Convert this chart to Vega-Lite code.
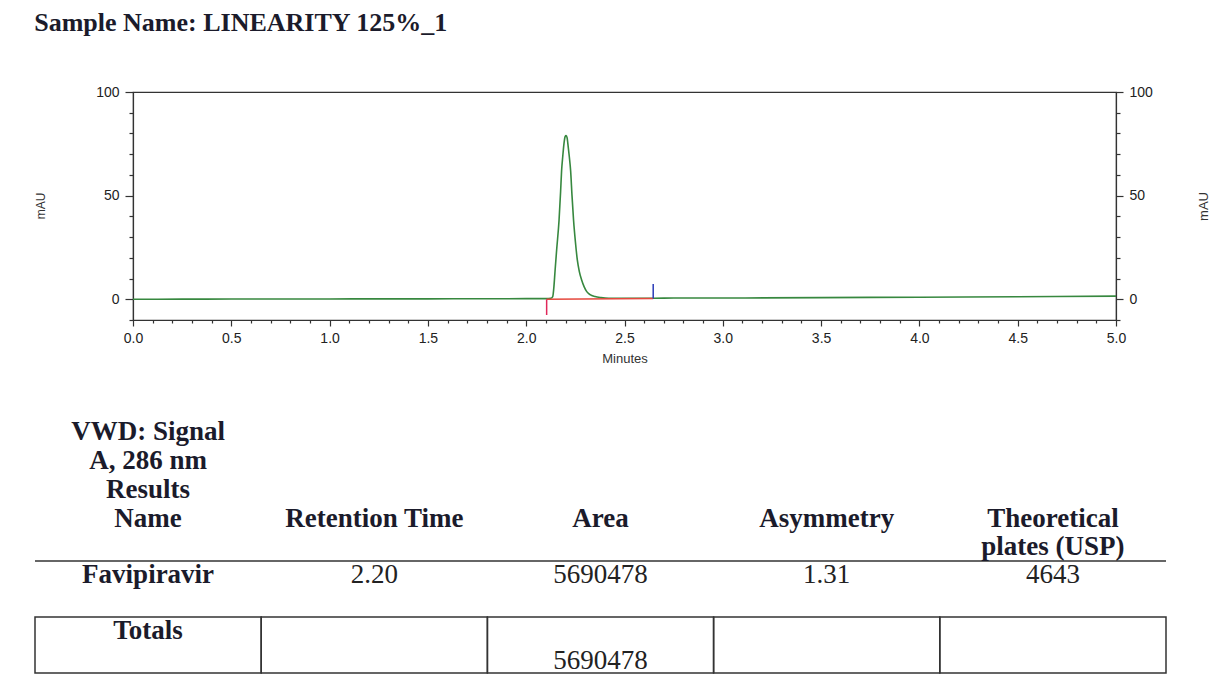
{
  "$schema": "https://vega.github.io/schema/vega-lite/v6.json",
  "background": "white",
  "padding": {"left": 34, "top": 10, "right": 0, "bottom": 0},
  "title": {
    "text": "Sample Name: LINEARITY 125%_1",
    "anchor": "start",
    "frame": "bounds",
    "offset": 48,
    "font": "Liberation Serif",
    "fontSize": 26,
    "fontWeight": "bold",
    "color": "#1b1b2b"
  },
  "datasets": {
    "trace": [
      {"t": 0.0, "mAU": 0.0},
      {"t": 0.25, "mAU": 0.05},
      {"t": 0.5, "mAU": 0.1},
      {"t": 0.75, "mAU": 0.1},
      {"t": 1.0, "mAU": 0.15},
      {"t": 1.25, "mAU": 0.2},
      {"t": 1.5, "mAU": 0.2},
      {"t": 1.75, "mAU": 0.25},
      {"t": 2.0, "mAU": 0.3},
      {"t": 2.1, "mAU": 0.3},
      {"t": 2.125, "mAU": 0.5},
      {"t": 2.135, "mAU": 1.3},
      {"t": 2.14, "mAU": 5},
      {"t": 2.147, "mAU": 14},
      {"t": 2.155, "mAU": 24},
      {"t": 2.167, "mAU": 38},
      {"t": 2.175, "mAU": 52},
      {"t": 2.18, "mAU": 62},
      {"t": 2.186, "mAU": 69},
      {"t": 2.192, "mAU": 75},
      {"t": 2.198, "mAU": 78.5},
      {"t": 2.203, "mAU": 79},
      {"t": 2.208, "mAU": 78},
      {"t": 2.212, "mAU": 75},
      {"t": 2.219, "mAU": 69},
      {"t": 2.226, "mAU": 62},
      {"t": 2.233, "mAU": 50},
      {"t": 2.241, "mAU": 38},
      {"t": 2.25, "mAU": 28},
      {"t": 2.26, "mAU": 19},
      {"t": 2.27, "mAU": 13.5},
      {"t": 2.282, "mAU": 9.3},
      {"t": 2.295, "mAU": 6},
      {"t": 2.308, "mAU": 3.7},
      {"t": 2.325, "mAU": 2.2},
      {"t": 2.35, "mAU": 1.3},
      {"t": 2.38, "mAU": 0.8},
      {"t": 2.42, "mAU": 0.5},
      {"t": 2.5, "mAU": 0.5},
      {"t": 2.65, "mAU": 0.5},
      {"t": 2.75, "mAU": 0.6},
      {"t": 3.0, "mAU": 0.6},
      {"t": 3.5, "mAU": 0.8},
      {"t": 4.0, "mAU": 1.0},
      {"t": 4.5, "mAU": 1.2},
      {"t": 5.0, "mAU": 1.5}
    ],
    "baseline": [
      {"t": 2.104, "mAU": 0.0},
      {"t": 2.646, "mAU": 0.4}
    ],
    "events": [
      {"t": 2.104, "from": 0.0, "to": -7.6, "event": "start"},
      {"t": 2.646, "from": 0.4, "to": 7.4, "event": "end"}
    ],
    "table": [
      {"row": "header", "column": "Name", "text": "VWD: Signal\nA, 286 nm\nResults\nName"},
      {"row": "header", "column": "Retention Time", "text": "Retention Time"},
      {"row": "header", "column": "Area", "text": "Area"},
      {"row": "header", "column": "Asymmetry", "text": "Asymmetry"},
      {"row": "header", "column": "Theoretical plates (USP)", "text": "Theoretical\nplates (USP)"},
      {"row": "value", "column": "Name", "text": "Favipiravir"},
      {"row": "value", "column": "Retention Time", "text": "2.20"},
      {"row": "value", "column": "Area", "text": "5690478"},
      {"row": "value", "column": "Asymmetry", "text": "1.31"},
      {"row": "value", "column": "Theoretical plates (USP)", "text": "4643"},
      {"row": "total", "column": "Name", "text": "Totals"},
      {"row": "total", "column": "Retention Time", "text": ""},
      {"row": "total", "column": "Area", "text": "5690478"},
      {"row": "total", "column": "Asymmetry", "text": ""},
      {"row": "total", "column": "Theoretical plates (USP)", "text": ""}
    ]
  },
  "spacing": 52,
  "vconcat": [
    {
      "spacing": 48,
      "hconcat": [
        {
          "width": 12,
          "height": 228,
          "view": {"stroke": null},
          "data": {"values": [{"label": "mAU"}]},
          "mark": {"type": "text", "angle": 270, "font": "Liberation Sans", "fontSize": 12, "color": "#333333", "baseline": "middle", "align": "center"},
          "encoding": {"text": {"field": "label"}}
        },
        {
          "width": 983,
          "height": 228,
          "view": {"stroke": "#333333", "strokeWidth": 1.2},
          "resolve": {"axis": {"x": "independent", "y": "independent"}},
          "layer": [
            {
              "data": {"name": "trace"},
              "mark": {"type": "line", "color": "#37883f", "strokeWidth": 1.6, "interpolate": "monotone"},
              "encoding": {
                "x": {
                  "field": "t", "type": "quantitative",
                  "scale": {"domain": [0, 5], "nice": false, "zero": false},
                  "axis": {
                    "orient": "bottom",
                    "values": [0, 0.5, 1, 1.5, 2, 2.5, 3, 3.5, 4, 4.5, 5],
                    "format": ".1f",
                    "tickSize": 6,
                    "labelPadding": 5,
                    "labelFlush": false,
                    "labelOverlap": false,
                    "title": "Minutes",
                    "titlePadding": 7
                  }
                },
                "y": {
                  "field": "mAU", "type": "quantitative",
                  "scale": {"domain": [-10, 100], "nice": false, "zero": false},
                  "axis": {
                    "orient": "left",
                    "values": [0, 50, 100],
                    "tickSize": 8,
                    "labelPadding": 6,
                    "labelFlush": false,
                    "labelOverlap": false,
                    "title": null
                  }
                }
              }
            },
            {
              "data": {"name": "baseline"},
              "mark": {"type": "line", "color": "#e5483d", "strokeWidth": 1.4},
              "encoding": {
                "x": {
                  "field": "t", "type": "quantitative",
                  "scale": {"domain": [0, 5], "nice": false, "zero": false},
                  "axis": {
                    "orient": "bottom",
                    "values": [0.1, 0.2, 0.3, 0.4, 0.6, 0.7, 0.8, 0.9, 1.1, 1.2, 1.3, 1.4, 1.6, 1.7, 1.8, 1.9, 2.1, 2.2, 2.3, 2.4, 2.6, 2.7, 2.8, 2.9, 3.1, 3.2, 3.3, 3.4, 3.6, 3.7, 3.8, 3.9, 4.1, 4.2, 4.3, 4.4, 4.6, 4.7, 4.8, 4.9],
                    "tickSize": 3,
                    "labels": false,
                    "domain": false,
                    "title": null
                  }
                },
                "y": {
                  "field": "mAU", "type": "quantitative",
                  "scale": {"domain": [-10, 100], "nice": false, "zero": false},
                  "axis": {
                    "orient": "left",
                    "values": [-10, 10, 20, 30, 40, 60, 70, 80, 90],
                    "tickSize": 4,
                    "labels": false,
                    "domain": false,
                    "title": null
                  }
                }
              }
            },
            {
              "data": {"name": "events"},
              "transform": [{"filter": "datum.event === 'start'"}],
              "mark": {"type": "rule", "color": "#e0285a", "strokeWidth": 1.5},
              "encoding": {
                "x": {"field": "t", "type": "quantitative", "scale": {"domain": [0, 5], "nice": false, "zero": false}, "axis": null},
                "y": {
                  "field": "from", "type": "quantitative",
                  "scale": {"domain": [-10, 100], "nice": false, "zero": false},
                  "axis": {
                    "orient": "right",
                    "values": [0, 50, 100],
                    "tickSize": 7,
                    "labelPadding": 6,
                    "labelFlush": false,
                    "labelOverlap": false,
                    "title": "mAU",
                    "titleX": 87,
                    "titleY": 114,
                    "titleAngle": 270,
                    "titleAlign": "center",
                    "titleBaseline": "middle"
                  }
                },
                "y2": {"field": "to"}
              }
            },
            {
              "data": {"name": "events"},
              "transform": [{"filter": "datum.event === 'end'"}],
              "mark": {"type": "rule", "color": "#2a3bb8", "strokeWidth": 1.5},
              "encoding": {
                "x": {"field": "t", "type": "quantitative", "scale": {"domain": [0, 5], "nice": false, "zero": false}, "axis": null},
                "y": {
                  "field": "from", "type": "quantitative",
                  "scale": {"domain": [-10, 100], "nice": false, "zero": false},
                  "axis": {
                    "orient": "right",
                    "values": [-10, 10, 20, 30, 40, 60, 70, 80, 90],
                    "tickSize": 4,
                    "labels": false,
                    "domain": false,
                    "title": null
                  }
                },
                "y2": {"field": "to"}
              }
            }
          ]
        }
      ]
    },
    {
      "width": 1131,
      "height": 168,
      "view": {"stroke": null},
      "data": {"name": "table"},
      "layer": [
        {
          "transform": [{"filter": "datum.row === 'total'"}],
          "mark": {"type": "rect", "filled": false, "stroke": "#333333", "strokeWidth": 1.5},
          "encoding": {
            "x": {"field": "column", "type": "nominal", "sort": null, "scale": {"type": "band", "domain": ["Name", "Retention Time", "Area", "Asymmetry", "Theoretical plates (USP)"], "paddingInner": 0, "paddingOuter": 0}, "axis": null},
            "y": {"field": "row", "type": "nominal", "sort": null, "scale": {"type": "band", "domain": ["header", "value", "total"], "paddingInner": 0, "paddingOuter": 0}, "axis": null}
          }
        },
        {
          "transform": [{"filter": "datum.row === 'value' && datum.column === 'Name'"}],
          "mark": {"type": "rule", "stroke": "#333333", "strokeWidth": 1.5},
          "encoding": {
            "y": {"field": "row", "type": "nominal", "sort": null, "bandPosition": 0, "scale": {"type": "band", "domain": ["header", "value", "total"], "paddingInner": 0, "paddingOuter": 0}, "axis": null}
          }
        },
        {
          "transform": [{"filter": "datum.row === 'header' && datum.column !== 'Name'"}],
          "mark": {"type": "text", "font": "Liberation Serif", "fontSize": 27, "fontWeight": "bold", "color": "#1b1b2b", "baseline": "alphabetic", "dy": -6, "lineBreak": "\n", "lineHeight": 28},
          "encoding": {
            "x": {"field": "column", "type": "nominal", "sort": null, "scale": {"type": "band", "domain": ["Name", "Retention Time", "Area", "Asymmetry", "Theoretical plates (USP)"], "paddingInner": 0, "paddingOuter": 0}, "axis": null},
            "y": {"field": "row", "type": "nominal", "sort": null, "scale": {"type": "band", "domain": ["header", "value", "total"], "paddingInner": 0, "paddingOuter": 0}, "axis": null},
            "text": {"field": "text"}
          }
        },
        {
          "transform": [{"filter": "datum.row === 'header' && datum.column === 'Name'"}],
          "mark": {"type": "text", "font": "Liberation Serif", "fontSize": 27, "fontWeight": "bold", "color": "#1b1b2b", "baseline": "alphabetic", "dy": -93, "lineBreak": "\n", "lineHeight": 29},
          "encoding": {
            "x": {"field": "column", "type": "nominal", "sort": null, "scale": {"type": "band", "domain": ["Name", "Retention Time", "Area", "Asymmetry", "Theoretical plates (USP)"], "paddingInner": 0, "paddingOuter": 0}, "axis": null},
            "y": {"field": "row", "type": "nominal", "sort": null, "scale": {"type": "band", "domain": ["header", "value", "total"], "paddingInner": 0, "paddingOuter": 0}, "axis": null},
            "text": {"field": "text"}
          }
        },
        {
          "transform": [{"filter": "(datum.row === 'value' || datum.row === 'total') && datum.column === 'Name'"}],
          "mark": {"type": "text", "font": "Liberation Serif", "fontSize": 27, "fontWeight": "bold", "color": "#1b1b2b", "baseline": "alphabetic", "dy": -6},
          "encoding": {
            "x": {"field": "column", "type": "nominal", "sort": null, "scale": {"type": "band", "domain": ["Name", "Retention Time", "Area", "Asymmetry", "Theoretical plates (USP)"], "paddingInner": 0, "paddingOuter": 0}, "axis": null},
            "y": {"field": "row", "type": "nominal", "sort": null, "scale": {"type": "band", "domain": ["header", "value", "total"], "paddingInner": 0, "paddingOuter": 0}, "axis": null},
            "text": {"field": "text"}
          }
        },
        {
          "transform": [{"filter": "datum.row === 'value' && datum.column !== 'Name'"}],
          "mark": {"type": "text", "font": "Liberation Serif", "fontSize": 27, "fontWeight": "normal", "color": "#222222", "baseline": "alphabetic", "dy": -6},
          "encoding": {
            "x": {"field": "column", "type": "nominal", "sort": null, "scale": {"type": "band", "domain": ["Name", "Retention Time", "Area", "Asymmetry", "Theoretical plates (USP)"], "paddingInner": 0, "paddingOuter": 0}, "axis": null},
            "y": {"field": "row", "type": "nominal", "sort": null, "scale": {"type": "band", "domain": ["header", "value", "total"], "paddingInner": 0, "paddingOuter": 0}, "axis": null},
            "text": {"field": "text"}
          }
        },
        {
          "transform": [{"filter": "datum.row === 'total' && datum.column !== 'Name'"}],
          "mark": {"type": "text", "font": "Liberation Serif", "fontSize": 27, "fontWeight": "normal", "color": "#222222", "baseline": "alphabetic", "dy": 24},
          "encoding": {
            "x": {"field": "column", "type": "nominal", "sort": null, "scale": {"type": "band", "domain": ["Name", "Retention Time", "Area", "Asymmetry", "Theoretical plates (USP)"], "paddingInner": 0, "paddingOuter": 0}, "axis": null},
            "y": {"field": "row", "type": "nominal", "sort": null, "scale": {"type": "band", "domain": ["header", "value", "total"], "paddingInner": 0, "paddingOuter": 0}, "axis": null},
            "text": {"field": "text"}
          }
        }
      ]
    }
  ],
  "config": {
    "view": {"stroke": null},
    "axis": {
      "grid": false,
      "domainColor": "#333333",
      "domainWidth": 1.2,
      "tickColor": "#333333",
      "tickWidth": 1.2,
      "labelColor": "#222222",
      "labelFont": "Liberation Sans",
      "labelFontSize": 14,
      "titleFont": "Liberation Sans",
      "titleFontSize": 13,
      "titleFontWeight": "normal",
      "titleColor": "#333333"
    }
  }
}
